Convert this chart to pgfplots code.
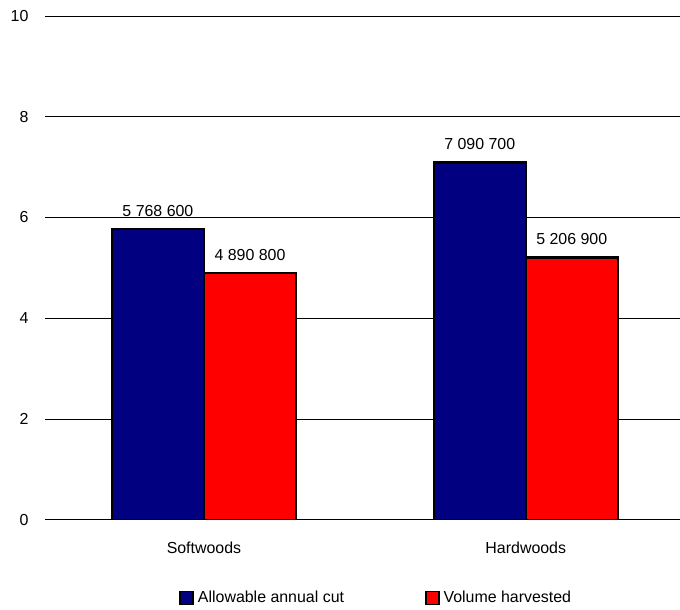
\documentclass[border=0pt]{standalone}
\usepackage{fontspec}
\setmainfont{Liberation Sans}
\usepackage{pgfplots}
\pgfplotsset{compat=1.18}
\definecolor{navyb}{HTML}{000080}
\definecolor{redb}{HTML}{FF0000}
\begin{document}
\begin{tikzpicture}
\begin{axis}[
  at={(0,0)}, anchor=south west,
  scale only axis,
  width=635bp, height=504bp,
  xmin=-0.494, xmax=1.478,
  ymin=0, ymax=10,
  ytick={0,2,4,6,8,10},
  xtick={0,1},
  xticklabels={Softwoods,Hardwoods},
  axis line style={draw=none},
  major tick length=0pt,
  ymajorgrids,
  grid style={black, line width=0.8pt},
  font=\fontsize{16}{19}\selectfont,
  /pgf/number format/assume math mode=true,
  yticklabel style={xshift=-13bp},
  xticklabel style={yshift=-19bp},
  ybar,
  bar width=0.286,
  point meta=explicit symbolic,
  nodes near coords,
  nodes near coords style={anchor=south, yshift=8bp, font=\fontsize{16}{19}\selectfont},
  legend columns=2,
  legend style={draw=none, fill=none, at={(0.522,-0.155)}, anchor=center,
    /tikz/every even column/.append style={column sep=79bp},
    /tikz/every odd column/.append style={column sep=2bp},
    font=\fontsize{16}{19}\selectfont},
  legend image code/.code={\draw[#1, line width=1.5pt] (0bp,-6.5bp) rectangle (13bp,6.5bp);},
]
\addplot[fill=navyb, draw=black, line width=2.2pt, bar shift=-0.143] coordinates {(0,5.7686) [5 768 600] (1,7.0907) [7 090 700]};
\addplot[fill=redb, draw=black, line width=2.2pt, bar shift=0.143] coordinates {(0,4.8908) [4 890 800] (1,5.2069) [5 206 900]};
\legend{Allowable annual cut, Volume harvested}
\end{axis}
\path[use as bounding box] (-45bp,-90bp) rectangle (635bp,520bp);
\end{tikzpicture}
\end{document}
